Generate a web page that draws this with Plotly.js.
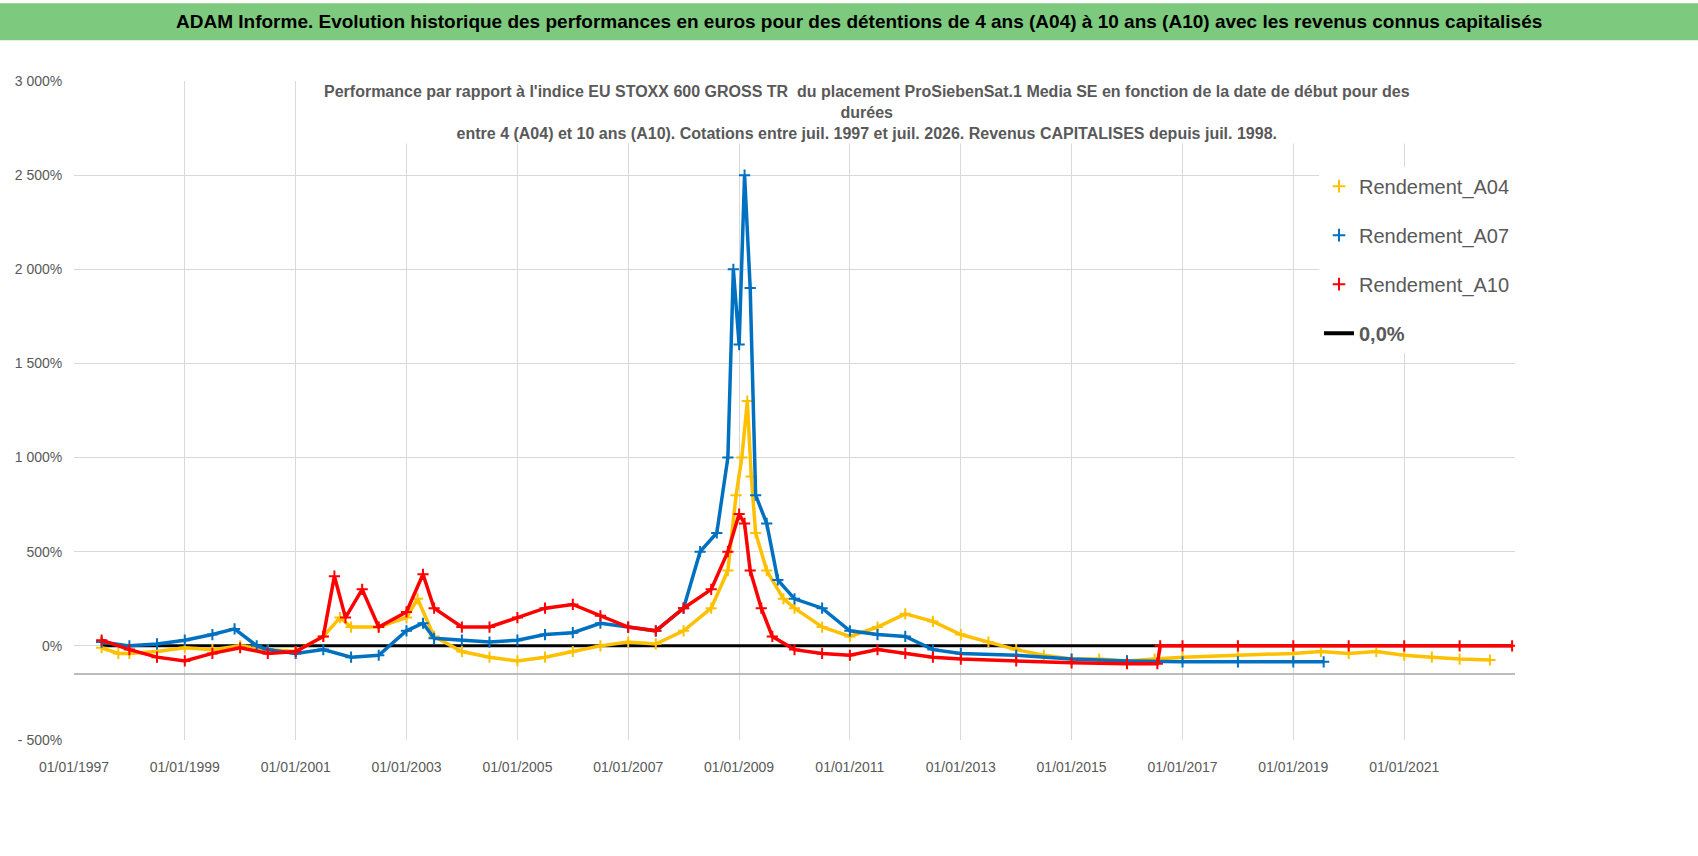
<!DOCTYPE html>
<html><head><meta charset="utf-8">
<script src="https://cdn.plot.ly/plotly-3.0.1.min.js"></script>
<style>body{margin:0;background:#fff}#c{width:1698px;height:856px}</style>
</head><body><div id="c"></div>
<script>
const a04Years=[1997.5,1997.8,1998,1998.5,1999,1999.5,2000,2000.5,2001,2001.5,2001.8,2002,2002.5,2003,2003.2,2003.5,2004,2004.5,2005,2005.5,2006,2006.5,2007,2007.5,2008,2008.5,2008.8,2008.95,2009.05,2009.15,2009.22,2009.3,2009.5,2009.8,2010,2010.5,2011,2011.5,2012,2012.5,2013,2013.5,2014,2014.5,2015,2015.5,2016,2016.5,2017,2018,2019,2019.5,2020,2020.5,2021,2021.5,2022,2022.55];
const a04Vals=[-10,-40,-40,-30,-10,-20,0,-20,-30,50,150,100,100,150,250,50,-30,-60,-80,-60,-30,0,20,10,80,200,400,800,1000,1300,900,600,400,250,200,100,50,100,170,130,60,20,-20,-50,-70,-70,-80,-70,-60,-50,-40,-30,-40,-30,-50,-60,-70,-75];
const a07Years=[1997.5,1998,1998.5,1999,1999.5,1999.9,2000.3,2000.5,2001,2001.5,2002,2002.5,2003,2003.3,2003.5,2004,2004.5,2005,2005.5,2006,2006.5,2007,2007.5,2008,2008.3,2008.6,2008.8,2008.9,2009,2009.1,2009.2,2009.3,2009.5,2009.7,2010,2010.5,2011,2011.5,2012,2012.5,2013,2014,2015,2016,2017,2018,2019,2019.55];
const a07Vals=[20,0,10,30,60,90,0,-20,-40,-20,-60,-50,80,120,40,30,20,30,60,70,120,100,80,200,500,600,1000,2000,1600,2500,1900,800,650,350,250,200,80,60,50,-20,-40,-50,-70,-80,-85,-85,-85,-85];
const a10Years=[1997.5,1998,1998.5,1999,1999.5,2000,2000.5,2001,2001.5,2001.7,2001.9,2002.2,2002.5,2003,2003.3,2003.5,2004,2004.5,2005,2005.5,2006,2006.5,2007,2007.5,2008,2008.5,2008.8,2009,2009.1,2009.2,2009.4,2009.6,2010,2010.5,2011,2011.5,2012,2012.5,2013,2014,2015,2016,2016.55,2016.6,2017,2018,2019,2020,2021,2022,2022.95];
const a10Vals=[30,-20,-60,-80,-40,-10,-40,-30,50,370,150,300,100,180,380,200,100,100,150,200,220,160,100,80,200,300,500,700,650,400,200,50,-20,-40,-50,-20,-40,-60,-70,-80,-90,-95,-95,0,0,0,0,0,0,0,0];
const tickYears=[1997,1999,2001,2003,2005,2007,2009,2011,2013,2015,2017,2019,2021];
const yTicks=[-500,0,500,1000,1500,2000,2500,3000];
const yLabels=['- 500%','0%','500%','1 000%','1 500%','2 000%','2 500%','3 000%'];

function toDate(y){const yr=Math.floor(y);const d=new Date(Date.UTC(yr,0,1)+(y-yr)*365.25*86400000);return d.toISOString().slice(0,10);}
const F="Liberation Sans, Arial, sans-serif";
function tr(name,xs,ys,col){return [
 {name:name,x:xs.map(toDate),y:ys,mode:'lines+markers',type:'scatter',showlegend:false,
  line:{color:col,width:3.5},marker:{symbol:'cross-thin',size:8,line:{color:col,width:2},color:col}},
 {name:name,legendgroup:name,x:[null],y:[null],mode:'markers',type:'scatter',marker:{symbol:'cross-thin',size:9,line:{color:col,width:2},color:col}}];}
const zeroX=[toDate(1997.5),toDate(2022.95)];
const data=[
 {name:'0,0%',x:zeroX,y:[0,0],mode:'lines',line:{color:'#000',width:3},showlegend:false},
 ...tr('Rendement_A04',a04Years,a04Vals,'#FFC000'),
 ...tr('Rendement_A07',a07Years,a07Vals,'#0070C0'),
 ...tr('Rendement_A10',a10Years,a10Vals,'#FF0000'),
 {name:'<b>0,0%</b>',legendgroup:'z',x:[null],y:[null],mode:'lines',line:{color:'#000',width:4}}
];
const layout={width:1698,height:856,paper_bgcolor:'#fff',plot_bgcolor:'#fff',
 margin:{l:74,r:183,t:81,b:116},showlegend:true,
 legend:{x:1.0,y:0.87,xanchor:'right',yanchor:'top',bgcolor:'#fff',font:{family:F,size:20,color:'#595959'},traceorder:'grouped',tracegroupgap:20,itemwidth:30},
 xaxis:{type:'date',range:['1997-01-01','2023-01-01'],tickvals:tickYears.map(y=>y+'-01-01'),ticktext:tickYears.map(y=>'01/01/'+y),
  showgrid:true,gridcolor:'#d9d9d9',zeroline:false,showline:false,tickfont:{family:F,size:14,color:'#595959'},ticks:'outside',ticklen:14,tickcolor:'#fff'},
 yaxis:{range:[-500,3000],tickvals:yTicks,ticktext:yLabels,showgrid:true,gridcolor:'#d9d9d9',zeroline:false,
  tickfont:{family:F,size:14,color:'#595959'},ticks:'outside',ticklen:8,tickcolor:'#fff'},
 shapes:[
  {type:'rect',xref:'paper',yref:'paper',x0:-0.06,x1:1.14,y0:1.062,y1:1.118,fillcolor:'#7DC97E',line:{width:0},layer:'below'},
  {type:'line',xref:'paper',yref:'y',x0:0,x1:1,y0:-150,y1:-150,line:{color:'#a6a6a6',width:1.5}}
 ],
 annotations:[
  {xref:'paper',yref:'paper',x:0.545,y:1.09,yanchor:'middle',text:'<b>ADAM Informe. Evolution historique des performances en euros pour des détentions de 4 ans (A04) à 10 ans (A10) avec les revenus connus capitalisés</b>',showarrow:false,font:{family:F,size:19,color:'#000'},xanchor:'center'},
  {xref:'paper',yref:'paper',x:0.55,y:1.0,yanchor:'top',text:"<b>Performance par rapport à l'indice EU STOXX 600 GROSS TR  du placement ProSiebenSat.1 Media SE en fonction de la date de début pour des<br>durées<br>entre 4 (A04) et 10 ans (A10). Cotations entre juil. 1997 et juil. 2026. Revenus CAPITALISES depuis juil. 1998.</b>",showarrow:false,font:{family:F,size:16,color:'#595959'},bgcolor:'#fff'}
 ]};
Plotly.newPlot('c',data,layout,{displayModeBar:false});
</script></body></html>
